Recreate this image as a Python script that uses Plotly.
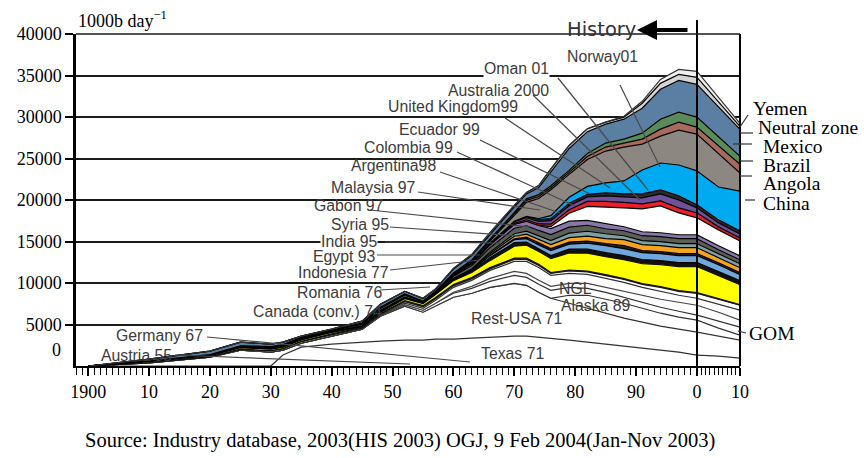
import plotly.graph_objects as go

# ---------------- data (1000 b/day) ----------------
years = [1900, 1910, 1920, 1925, 1930, 1932, 1935, 1940, 1945, 1948, 1952, 1955, 1957, 1960, 1963,
         1966, 1970, 1972, 1974, 1976, 1979, 1982, 1985, 1988, 1991, 1994, 1997, 2000, 2005, 2010]

texas = [0, 0, 0, 0, 0, 1320, 2280, 2640, 2880, 3000, 3120, 3120, 3240, 3240, 3360, 3480, 3600, 3600, 3480, 3360,
         3120, 2880, 2640, 2400, 2160, 1920, 1680, 1320, 1200, 960]
rest_usa = [0, 360, 1080, 1920, 1680, 600, 480, 960, 1560, 3000, 4080, 3360, 3960, 5040, 5400, 6000, 6360, 6120, 5400,
            4800, 4440, 4080, 3720, 3360, 3120, 2880, 2760, 2760, 2400, 2160]
alaska = [0] * 20 + [960, 1560, 1680, 1800, 1680, 1560, 1440, 1440, 960, 600]
ngl = [0, 0, 0, 0, 0, 0, 0, 0, 0, 60, 180, 240, 300, 480, 600, 720, 960, 960, 960, 960, 960, 840, 840, 720, 720, 720,
       720, 600, 840, 960]
gom = [0, 0, 0, 0, 0, 0, 0, 0, 0, 0, 0, 0, 36, 120, 240, 360, 480, 480, 480, 480, 480, 600, 600, 720, 840, 960, 1080,
       1200, 1080, 840]
canada = [0, 0, 0, 0, 0, 0, 0, 0, 0, 60, 180, 240, 360, 600, 720, 960, 1200, 1440, 1560, 1320, 1200, 1080, 1080, 1080,
          960, 960, 840, 840, 960, 1200]
romania = [0, 60, 60, 120, 180, 180, 180, 180, 120, 120, 180, 180, 180, 180, 180, 180, 240, 240, 240, 240, 300, 300,
           360, 360, 360, 480, 480, 600, 600, 600]
germany = [0, 0, 0, 0, 0, 0, 36, 60, 48, 36, 60, 72, 84, 96, 120, 120, 120, 120, 96, 72, 72, 60, 60, 60, 60, 60, 60,
           60, 48, 36]
austria = [0, 0, 0, 0, 0, 0, 0, 36, 60, 60, 72, 60, 60, 48, 48, 36, 36, 36, 36, 36, 36, 36, 36, 36, 36, 36, 36, 36,
           36, 36]
indonesia = [0, 120, 120, 180, 180, 180, 180, 180, 60, 120, 240, 240, 360, 480, 600, 840, 1440, 1560, 1560, 1680, 2040,
             2160, 2160, 2280, 2400, 2640, 2880, 3120, 2760, 2400]
egypt = [0, 12, 12, 24, 24, 24, 24, 36, 60, 120, 96, 60, 60, 120, 180, 360, 420, 360, 300, 360, 480, 480, 480, 480,
         480, 480, 480, 480, 480, 480]
india = [0, 60, 72, 72, 72, 72, 72, 60, 60, 96, 96, 60, 60, 96, 120, 240, 360, 420, 480, 600, 600, 720, 840, 840, 840,
         840, 840, 840, 840, 720]
syria = [0] * 15 + [60, 120, 180, 240, 240, 240, 240, 240, 360, 240, 240, 240, 240, 240, 240]
gabon = [0] * 13 + [36, 60, 180, 300, 360, 420, 480, 540, 600, 600, 720, 720, 720, 720, 720, 600, 600]
malaysia = [0] * 13 + [36, 60, 180, 300, 360, 420, 480, 540, 600, 600, 480, 480, 480, 480, 480, 480, 480]
argentina = [0, 0, 36, 72, 120, 120, 108, 120, 180, 264, 240, 120, 120, 240, 420, 540, 660, 660, 660, 720, 720, 720,
             600, 600, 600, 600, 600, 600, 480, 480]
colombia = [0, 0, 0, 36, 60, 60, 60, 48, 120, 120, 108, 36, 60, 132, 240, 360, 480, 540, 600, 720, 720, 600, 600, 480,
            480, 480, 480, 480, 480, 480]
uk = [0] * 19 + [240, 960, 1680, 2040, 2280, 2760, 3240, 2640, 2040, 1920, 1800]
oman = [0] * 16 + [120, 180, 180, 300, 420, 600, 660, 660, 600, 600, 600, 600, 360, 360]
australia = [0] * 13 + [12, 60, 120, 180, 240, 300, 420, 480, 540, 660, 660, 720, 840, 960, 600, 480, 480]
ecuador = [0, 0, 0, 12, 24, 24, 24, 24, 24, 36, 36, 12, 12, 48, 60, 60, 60, 180, 240, 240, 300, 300, 360, 360, 480,
           480, 480, 360, 360, 360]
norway = [0] * 18 + [120, 360, 720, 960, 1200, 1560, 2880, 3240, 3720, 4080, 3960, 4800]
china = [0] * 11 + [12, 24, 60, 120, 240, 720, 1680, 2400, 3120, 2760, 3240, 3840, 4080, 3120, 3240, 4200, 4440, 3960,
                    2160]
angola = [0] * 13 + [36, 60, 120, 240, 240, 240, 240, 240, 360, 480, 480, 600, 840, 960, 840, 960, 1080]
brazil = [0] * 10 + [12, 24, 36, 96, 120, 120, 180, 180, 240, 240, 240, 360, 480, 480, 720, 1200, 1200, 1200, 1080, 960]
mexico = [0, 228, 420, 444, 300, 300, 156, 96, 228, 348, 300, 300, 264, 480, 540, 600, 600, 600, 840, 1680, 2640, 2640,
          2280, 2400, 3000, 3600, 3840, 3960, 3600, 3240]
neutral_zone = [0] * 11 + [24, 24, 84, 120, 180, 180, 180, 240, 360, 360, 360, 240, 240, 600, 720, 720, 840, 600, 360]
yemen = [0] * 23 + [120, 240, 480, 600, 720, 600, 360]

y_ticks = [5000, 10000, 15000, 20000, 25000, 30000, 35000, 40000]
x_ticks = [1900, 1910, 1920, 1930, 1940, 1950, 1960, 1970, 1980, 1990]
x_ticklabels = ["1900", "10", "20", "30", "40", "50", "60", "70", "80", "90"]
x2_ticks = [2000, 2010]
x2_ticklabels = ["0", "10"]

# bottom -> top
layers = [
    ("Texas", texas, "#ffffff", "#333333"),
    ("Rest-USA", rest_usa, "#ffffff", "#333333"),
    ("Alaska", alaska, "#ffffff", "#333333"),
    ("NGL", ngl, "#ffffff", "#333333"),
    ("GOM", gom, "#ffffff", "#444444"),
    ("Canada (conv.)", canada, "#ffffff", "#333333"),
    ("Romania", romania, "#ffffff", "#222222"),
    ("Germany", germany, "#555555", "#111111"),
    ("Austria", austria, "#777777", "#111111"),
    ("Indonesia", indonesia, "#ffff00", "#111111"),
    ("Egypt", egypt, "#111111", "#000000"),
    ("India", india, "#6fa8dc", "#000000"),
    ("Syria", syria, "#222222", "#000000"),
    ("Gabon", gabon, "#f5a320", "#000000"),
    ("Malaysia", malaysia, "#7fa0a0", "#000000"),
    ("Argentina", argentina, "#5b5f58", "#000000"),
    ("Colombia", colombia, "#8878a8", "#000000"),
    ("United Kingdom", uk, "#ffffff", "#000000"),
    ("Oman", oman, "#e8202a", "#000000"),
    ("Australia", australia, "#70509a", "#000000"),
    ("Ecuador", ecuador, "#2a2a2a", "#000000"),
    ("Norway", norway, "#00aaf0", "#000000"),
    ("China", china, "#8d8782", "#000000"),
    ("Angola", angola, "#a86a5c", "#000000"),
    ("Brazil", brazil, "#5a8c5a", "#000000"),
    ("Mexico", mexico, "#5b7fa2", "#000000"),
    ("Neutral zone", neutral_zone, "#d6d6d6", "#000000"),
    ("Yemen", yemen, "#f0f0f0", "#333333"),
]

fig = go.Figure()
hist = [i for i, yr in enumerate(years) if yr <= 2000]
fcst = [i for i, yr in enumerate(years) if yr >= 2000]
for name, vals, fc, lc in layers:
    for idx, xa, grp in ((hist, "x", "hist"), (fcst, "x2", "fcst")):
        fig.add_trace(go.Scatter(
            x=[years[i] for i in idx], y=[vals[i] for i in idx],
            mode="lines", stackgroup=grp, name=name,
            line=dict(color=lc, width=1.2), fillcolor=fc,
            xaxis=xa, yaxis="y", hoverinfo="skip", showlegend=False))

# ---------------- layout helpers (pixel -> paper) ----------------
L, R, T, B = 76, 740, 34, 366
def px(x, y):
    return (x - L) / (R - L), (B - y) / (B - T)

split = (697 - L) / (R - L)

serif = "Liberation Serif"
sans = "Liberation Sans"

axis_common = dict(ticks="outside", ticklen=8, tickwidth=1.5, tickcolor="black",
                   minor=dict(dtick=1, tick0=1900, ticks="outside", ticklen=7, tickwidth=1.2, tickcolor="black"),
                   showline=True, linewidth=2, linecolor="black", showgrid=False, zeroline=False,
                   tickfont=dict(family=serif, size=18, color="black"), anchor="y", fixedrange=True)

fig.update_layout(
    width=864, height=458,
    margin=dict(l=L, r=864 - R, t=T, b=458 - B, autoexpand=False),
    paper_bgcolor="white", plot_bgcolor="white",
    showlegend=False,
    xaxis=dict(domain=[0, split], range=[1898, 2000], tickmode="array", tickvals=x_ticks,
               ticktext=x_ticklabels, **axis_common),
    xaxis2=dict(domain=[split, 1], range=[2000, 2010], tickmode="array", tickvals=x2_ticks,
                ticktext=x2_ticklabels, **axis_common),
    yaxis=dict(range=[0, 40000], tickmode="array", tickvals=y_ticks, ticktext=[str(v) for v in y_ticks],
               showgrid=True, gridcolor="#1a1a1a", gridwidth=1.5, showline=True, linewidth=2.5,
               linecolor="black", ticks="outside", ticklen=8, tickwidth=2, tickcolor="black",
               tickfont=dict(family=serif, size=18, color="black"), zeroline=False, fixedrange=True),
)

shapes = []
def seg(x0, y0, x1, y1, color="#4a4a4a", width=1.2):
    a, b = px(x0, y0)
    c, d = px(x1, y1)
    shapes.append(dict(type="line", xref="paper", yref="paper", x0=a, y0=b, x1=c, y1=d,
                       line=dict(color=color, width=width)))

# frame pieces
seg(697, 20, 697, 366, color="black", width=2)
seg(740, 34, 740, 366, color="black", width=2)
seg(76, 34, 740, 34, color="#1a1a1a", width=1.5)

# leader lines
seg(558, 78, 648, 190)     # Oman
seg(620, 85, 660, 167)     # Norway
seg(533, 95, 640, 200)     # Australia
seg(505, 118, 610, 188)    # UK
seg(480, 140, 590, 194)    # Ecuador
seg(457, 152, 575, 206)    # Colombia
seg(440, 172, 560, 213)    # Argentina
seg(418, 192, 540, 210)    # Malaysia
seg(370, 210, 530, 227)    # Gabon
seg(390, 227, 520, 236)    # Syria
seg(385, 242, 500, 243)    # India
seg(377, 255, 480, 255)    # Egypt
seg(390, 270, 480, 260)    # Indonesia
seg(380, 290, 430, 287)    # Romania
seg(207, 337, 470, 362)    # Germany
seg(175, 355, 410, 364)    # Austria
seg(748, 115, 740, 127, color="#333")   # Yemen
seg(740, 133, 753, 133, color="#333")   # Neutral zone
seg(733, 144, 752, 144, color="#333")   # Mexico
seg(740, 161, 753, 161, color="#333")   # Brazil
seg(740, 176, 752, 176, color="#333")   # Angola
seg(745, 200, 755, 200, color="#333")   # China
seg(738, 331, 746, 333, color="#333")   # GOM
fig.update_layout(shapes=shapes)

ann = []
def label(text, x, y, font=sans, size=15.8, color="#3c3c3c", bg=None, anchor="left"):
    a, b = px(x, y)
    d = dict(text=text, x=a, y=b, xref="paper", yref="paper", xanchor=anchor, yanchor="middle",
             showarrow=False, font=dict(family=font, size=size, color=color), borderpad=0)
    if bg:
        d["bgcolor"] = bg
    ann.append(d)

label("Oman 01", 483, 68, bg="white")
label("Norway01", 566, 57)
label("Australia 2000", 447, 90)
label("United Kingdom99", 387, 107)
label("Ecuador 99", 398, 129)
label("Colombia 99", 363, 147)
label("Argentina98", 350, 165)
label("Malaysia 97", 330, 187)
label("Gabon 97", 313, 205)
label("Syria 95", 330, 224)
label("India 95", 320, 241, bg="white")
label("Egypt 93", 312, 256)
label("Indonesia 77", 297, 272)
label("Romania 76", 296, 292)
label("Canada (conv.) 74", 252, 311)
label("Germany 67", 115, 335)
label("Austria 55", 100, 355)
label("NGL", 558, 288)
label("Alaska 89", 560, 305)
label("Rest-USA 71", 470, 318)
label("Texas 71", 480, 353)
label("History", 566, 29, font="DejaVu Sans", size=19.5, color="#333")
for t, x, y in [("Yemen", 752, 108), ("Neutral zone", 757, 127), ("Mexico", 762, 146), ("Brazil", 762, 165),
                ("Angola", 762, 184), ("China", 762, 203), ("GOM", 748, 333)]:
    label(t, x, y, font=serif, size=19.5, color="black")
label("0", 62, 350, font=serif, size=18, color="black", anchor="right")
label("1000b day<sup>−1</sup>", 77, 20, font=serif, size=18, color="black")
a, b = px(400, 440)
ann.append(dict(text="Source: Industry database, 2003(HIS 2003) OGJ, 9 Feb 2004(Jan-Nov 2003)",
                x=a, y=b, xref="paper", yref="paper", xanchor="center", yanchor="middle", showarrow=False,
                font=dict(family=serif, size=20.5, color="black")))
# History arrow
hx, hy = px(637, 30)
ann.append(dict(text="", x=hx, y=hy, xref="paper", yref="paper", ax=52, ay=0, axref="pixel", ayref="pixel",
                showarrow=True, arrowhead=2, arrowsize=1.0, arrowwidth=4, arrowcolor="black", standoff=0))
fig.update_layout(annotations=ann)

fig.write_html("out.html", config={"displayModeBar": False},
               post_script="document.body.style.margin='0px';")
